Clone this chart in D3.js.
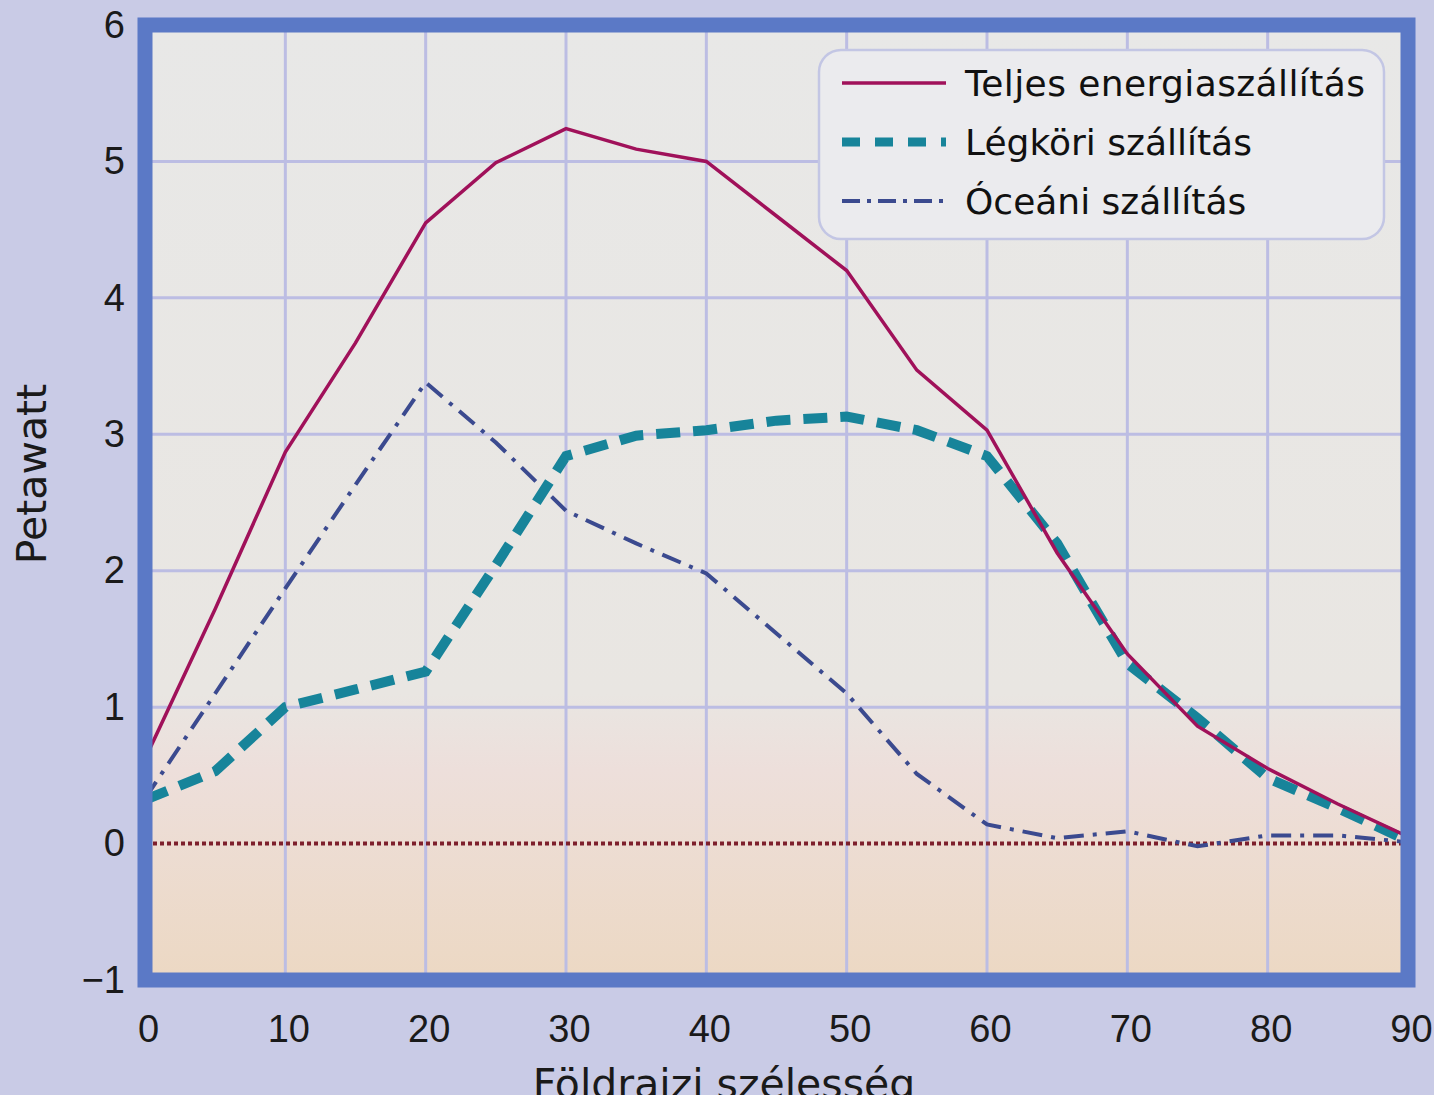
<!DOCTYPE html>
<html><head><meta charset="utf-8">
<script src="https://cdn.jsdelivr.net/npm/d3@7"></script>
<style>body{margin:0;background:#c9cbe6;}svg{display:block;}</style>
</head><body>
<script>
const latitudes = [0,5,10,15,20,25,30,35,40,45,50,55,60,65,70,75,80,85,90];
const totalTransport = [0.62,1.72,2.87,3.67,4.55,4.99,5.24,5.09,5.0,4.6,4.2,3.47,3.03,2.13,1.39,0.86,0.55,0.29,0.05];
const atmosphericTransport = [0.32,0.53,1.0,1.13,1.26,2.04,2.84,2.99,3.03,3.1,3.13,3.03,2.84,2.2,1.32,0.92,0.48,0.26,0.02];
const oceanicTransport = [0.33,1.1,1.87,2.63,3.38,2.94,2.44,2.2,1.98,1.54,1.1,0.51,0.14,0.04,0.09,-0.02,0.06,0.06,0.01];
const xTicks = [0,10,20,30,40,50,60,70,80,90];
const yTicks = [-1,0,1,2,3,4,5,6];
const seriesNames = ["Teljes energiaszállítás","Légköri szállítás","Óceáni szállítás"];
const xTitle = "Földrajzi szélesség";
const yTitle = "Petawatt";

const W = 1434, H = 1095;
const svg = d3.select("body").append("svg").attr("width", W).attr("height", H);
const x = d3.scaleLinear().domain([0,90]).range([145,1408]);
const y = d3.scaleLinear().domain([-1,6]).range([980,25]);

const defs = svg.append("defs");
const grad = defs.append("linearGradient").attr("id","bg").attr("x1",0).attr("y1",0).attr("x2",0).attr("y2",1);
grad.append("stop").attr("offset","0%").attr("stop-color","#e8e8e7");
grad.append("stop").attr("offset","70%").attr("stop-color","#e9e6e2");
grad.append("stop").attr("offset","78%").attr("stop-color","#eddfdb");
grad.append("stop").attr("offset","100%").attr("stop-color","#ecd8c3");
defs.append("clipPath").attr("id","clip").append("rect")
  .attr("x", x(0)).attr("y", y(6)).attr("width", x(90)-x(0)).attr("height", y(-1)-y(6));

svg.append("rect").attr("x", x(0)).attr("y", y(6)).attr("width", x(90)-x(0)).attr("height", y(-1)-y(6))
  .attr("fill","url(#bg)");

const g = svg.append("g").attr("clip-path","url(#clip)");
// grid
g.selectAll(".vg").data(xTicks.slice(1,-1)).join("line")
  .attr("x1", d=>x(d)).attr("x2", d=>x(d)).attr("y1", y(6)).attr("y2", y(-1))
  .attr("stroke","#bcbde3").attr("stroke-width",3);
g.selectAll(".hg").data(yTicks.filter(d=>d!==0 && d>-1 && d<6)).join("line")
  .attr("y1", d=>y(d)).attr("y2", d=>y(d)).attr("x1", x(0)).attr("x2", x(90))
  .attr("stroke","#bcbde3").attr("stroke-width",3);
// zero line
g.append("line").attr("x1", x(0)+8).attr("x2", x(90)).attr("y1", y(0)).attr("y2", y(0))
  .attr("stroke","#7d1f2c").attr("stroke-width",4).attr("stroke-dasharray","4,3");

const line = d3.line().x((d,i)=>x(latitudes[i])).y(d=>y(d));
g.append("path").datum(oceanicTransport).attr("d", line).attr("fill","none")
  .attr("stroke","#3b4a8f").attr("stroke-width",4).attr("stroke-dasharray","20,9,4,9");
g.append("path").datum(atmosphericTransport).attr("d", line).attr("fill","none")
  .attr("stroke","#17849a").attr("stroke-width",10).attr("stroke-dasharray","24,13");
g.append("path").datum(totalTransport).attr("d", line).attr("fill","none")
  .attr("stroke","#a0115a").attr("stroke-width",3.5);

// frame
svg.append("rect").attr("x", x(0)).attr("y", y(6)).attr("width", x(90)-x(0)).attr("height", y(-1)-y(6))
  .attr("fill","none").attr("stroke","#5b79c6").attr("stroke-width",15);

// axes
const xAxis = svg.append("g").attr("transform",`translate(0,${y(-1)})`)
  .call(d3.axisBottom(x).tickValues(xTicks).tickSize(0).tickPadding(35).tickFormat(d3.format("d")));
const yAxis = svg.append("g").attr("transform",`translate(${x(0)},0)`)
  .call(d3.axisLeft(y).tickValues(yTicks).tickSize(0).tickPadding(20).tickFormat(d=> d<0 ? "\u2212"+Math.abs(d) : d));
[xAxis,yAxis].forEach(a=>{
  a.select(".domain").remove();
  a.selectAll("text").attr("font-family","Liberation Sans, Arial, sans-serif").attr("font-size",38).attr("fill","#1a1a1a");
});
xAxis.selectAll("text").attr("dx", 3);

svg.append("text").attr("x",724).attr("y",1098).attr("text-anchor","middle")
  .attr("font-family","DejaVu Sans, Verdana, sans-serif").attr("font-size",41).attr("fill","#1a1a1a").text(xTitle);
svg.append("text").attr("transform","translate(46,474) rotate(-90)").attr("text-anchor","middle")
  .attr("font-family","DejaVu Sans, Verdana, sans-serif").attr("font-size",41).attr("fill","#1a1a1a").text(yTitle);

// legend
const lg = svg.append("g");
lg.append("rect").attr("x",819).attr("y",50).attr("width",565).attr("height",189).attr("rx",22)
  .attr("fill","#ebebee").attr("stroke","#c3c6e4").attr("stroke-width",2.5);
const legStyles = [
  {stroke:"#a0115a", w:3.5, dash:null},
  {stroke:"#17849a", w:9, dash:"18,15"},
  {stroke:"#3b4a8f", w:4, dash:"18,7,4,7"}
];
seriesNames.forEach((name,i)=>{
  const yy = 83 + i*59;
  lg.append("line").attr("x1",842).attr("x2",946).attr("y1",yy).attr("y2",yy)
    .attr("stroke",legStyles[i].stroke).attr("stroke-width",legStyles[i].w)
    .attr("stroke-dasharray",legStyles[i].dash);
  lg.append("text").attr("x",965).attr("y",yy+13).attr("font-family","DejaVu Sans, Verdana, sans-serif")
    .attr("font-size",36).attr("textLength", i===0 ? 400 : null).attr("fill","#111").text(name);
});
</script>
</body></html>
